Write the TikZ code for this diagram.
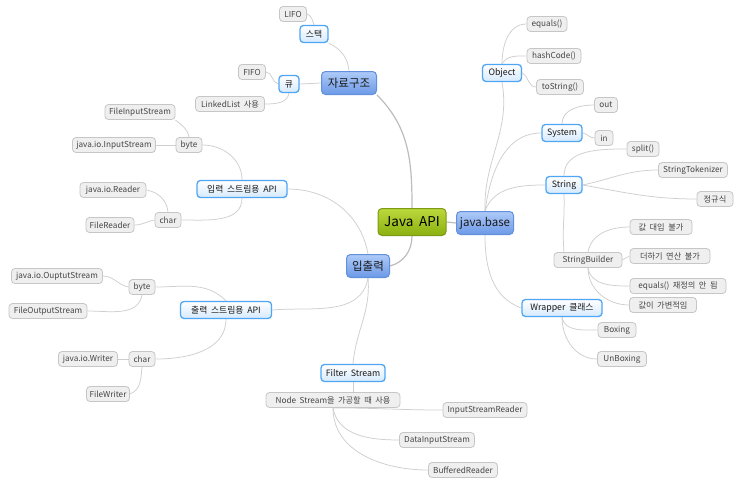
\documentclass[tikz,border=0pt]{standalone}
\usepackage{fontspec}
\setmainfont{Noto Sans CJK KR}[WordSpace=1.9]
\usetikzlibrary{calc}
\pgfdeclarelayer{background}
\pgfsetlayers{background,main}
\definecolor{leaffill}{HTML}{EFEFEF}
\definecolor{leafdraw}{HTML}{C6C6C6}
\definecolor{leaftext}{HTML}{454545}
\definecolor{subdraw}{HTML}{4FA6F5}
\definecolor{subtop}{HTML}{FFFFFF}
\definecolor{subbot}{HTML}{D6EAFD}
\definecolor{maintop}{HTML}{AECAF8}
\definecolor{mainbot}{HTML}{6C99E6}
\definecolor{maindraw}{HTML}{6290DC}
\definecolor{roottop}{HTML}{BCD83C}
\definecolor{rootbot}{HTML}{8AB010}
\definecolor{rootdraw}{HTML}{7D9A14}
\definecolor{edgecol}{HTML}{CFCFCF}
\definecolor{mainedgecol}{HTML}{BDBDBD}
\tikzset{
  leaf/.style={draw=leafdraw, fill=leaffill, line width=0.8pt, rounded corners=3.5pt,
    font=\fontsize{8.2}{9}\selectfont, text=leaftext, minimum height=15, inner xsep=2pt, inner ysep=1pt},
  subn/.style={draw=subdraw, top color=subtop, bottom color=subbot, line width=1.3pt, rounded corners=3.5pt,
    font=\fontsize{8.8}{10}\selectfont, text=black!90, minimum height=17, inner xsep=2pt, inner ysep=1pt},
  mainn/.style={draw=maindraw, top color=maintop, bottom color=mainbot, line width=1pt, rounded corners=4pt,
    font=\fontsize{11.5}{12}\selectfont, text=black!90, minimum height=23, inner xsep=2pt, inner ysep=1pt},
  rootn/.style={draw=rootdraw, top color=roottop, bottom color=rootbot, line width=1pt, rounded corners=4pt,
    font=\fontsize{13.5}{14}\selectfont, text=black, minimum height=27, inner xsep=2pt, inner ysep=1pt},
  edge/.style={draw=edgecol, line width=0.75pt},
  mainedge/.style={draw=mainedgecol, line width=1.2pt}
}
\begin{document}
\begin{tikzpicture}[x=1pt,y=-1pt]
\useasboundingbox (0,0) rectangle (743,482);
% centre and main nodes
\node[rootn, minimum width=68] (api) at (412,222) {Java API};
\node[mainn, minimum width=57] (jb) at (485,223) {java.base};
\node[mainn, minimum width=55] (ds) at (349,83) {자료구조};
\node[mainn, minimum width=43] (io) at (368,266) {입출력};
% 자료구조
\node[subn, minimum width=28] (stack) at (314,34) {스택};
\node[leaf, minimum width=27] (lifo) at (293,14) {LIFO};
\node[subn, minimum width=20] (queue) at (289,84) {큐};
\node[leaf, minimum width=27] (fifo) at (252,72) {FIFO};
\node[leaf, minimum width=69] (ll) at (230,104) {LinkedList 사용};
% 입력
\node[subn, minimum width=90] (inapi) at (242,189) {입력 스트림용 API};
\node[leaf, minimum width=26] (byteA) at (189,145) {byte};
\node[leaf, minimum width=70] (fis) at (140,112) {FileInputStream};
\node[leaf, minimum width=83] (jis) at (114,145) {java.io.InputStream};
\node[leaf, minimum width=26] (charA) at (168,220) {char};
\node[leaf, minimum width=66] (jrd) at (113,190) {java.io.Reader};
\node[leaf, minimum width=48] (frd) at (110,225) {FileReader};
% 출력
\node[subn, minimum width=91] (outapi) at (226,310) {출력 스트림용 API};
\node[leaf, minimum width=26] (byteB) at (142,287) {byte};
\node[leaf, minimum width=91] (jos) at (57,276) {java.io.OuptutStream};
\node[leaf, minimum width=78] (fos) at (48,311) {FileOutputStream};
\node[leaf, minimum width=26] (charB) at (142,359) {char};
\node[leaf, minimum width=59] (jwr) at (88,359) {java.io.Writer};
\node[leaf, minimum width=43] (fwr) at (108,394) {FileWriter};
% Filter Stream
\node[subn, minimum width=64] (fs) at (353,373) {Filter Stream};
\node[leaf, minimum width=134] (ns) at (333,400) {Node Stream을 가공할 때 사용};
\node[leaf, minimum width=84] (isr) at (485,410) {InputStreamReader};
\node[leaf, minimum width=75] (dis) at (437,440) {DataInputStream};
\node[leaf, minimum width=69] (br) at (463,470) {BufferedReader};
% java.base
\node[subn, minimum width=39] (obj) at (502,73) {Object};
\node[leaf, minimum width=40] (eq) at (547,24) {equals()};
\node[leaf, minimum width=54] (hc) at (554,56) {hashCode()};
\node[leaf, minimum width=47] (ts) at (560,87) {toString()};
\node[subn, minimum width=40] (sys) at (562,133) {System};
\node[leaf, minimum width=23] (out) at (606,105) {out};
\node[leaf, minimum width=18] (in) at (604,138) {in};
\node[subn, minimum width=36] (str) at (564,185) {String};
\node[leaf, minimum width=32] (split) at (643,149) {split()};
\node[leaf, minimum width=69] (stok) at (693,170) {StringTokenizer};
\node[leaf, minimum width=36] (regex) at (715,199) {정규식};
\node[leaf, minimum width=68] (sb) at (588,260) {StringBuilder};
\node[leaf, minimum width=62] (sbA) at (661,227) {값 대입 불가};
\node[leaf, minimum width=80] (sbB) at (670,256) {더하기 연산 불가};
\node[leaf, minimum width=96] (sbC) at (678,286) {equals() 재정의 안 됨};
\node[leaf, minimum width=67] (sbD) at (663,305) {값이 가변적임};
\node[subn, minimum width=80] (wr) at (562,308) {Wrapper 클래스};
\node[leaf, minimum width=38] (boxg) at (617,330) {Boxing};
\node[leaf, minimum width=49] (unboxg) at (622,359) {UnBoxing};

\begin{pgfonlayer}{background}
\fill[white] (0,0) rectangle (743,482);
% main connectors
\draw[mainedge] (api.east) -- (jb.west);
\draw[mainedge] (api.north) to[out=90,in=-45] (ds.south east);
\draw[mainedge] (api.south) to[out=-90,in=15] (io.east);
% 자료구조
\draw[edge] (ds.north) to[out=95,in=-25] (stack.south east);
\draw[edge] (stack.north) to[out=110,in=-20] (lifo.east);
\draw[edge] (ds.west) -- (queue.east);
\draw[edge] (queue.west) to[out=170,in=0] (fifo.east);
\draw[edge] (queue.south) to[out=-100,in=0] (ll.east);
% 입출력
\draw[edge] (io.north) to[out=100,in=0] (inapi.east);
\draw[edge] (io.south) to[out=-100,in=5] (outapi.east);
\draw[edge] (io.south) to[out=-85,in=85] (fs.north);
\draw[edge] (fs.south) -- (fs.south |- ns.north);
\draw[edge] (inapi.north) to[out=90,in=0] (byteA.east);
\draw[edge] (byteA.north) to[out=100,in=-40] (fis.south east);
\draw[edge] (byteA.west) -- (jis.east);
\draw[edge] (inapi.south) to[out=-90,in=0] (charA.east);
\draw[edge] (charA.north) to[out=95,in=-10] (jrd.east);
\draw[edge] (charA.west) to[out=190,in=0] (frd.east);
\draw[edge] (outapi.north) to[out=135,in=0] (byteB.east);
\draw[edge] (byteB.west) to[out=170,in=0] (jos.east);
\draw[edge] (byteB.south) to[out=-100,in=0] (fos.east);
\draw[edge] (outapi.south) to[out=-90,in=0] (charB.east);
\draw[edge] (charB.west) -- (jwr.east);
\draw[edge] (charB.south) to[out=-95,in=20] (fwr.east);
\draw[edge] (ns.south) to[out=0,in=180] (isr.west);
\draw[edge] (ns.south) to[out=-80,in=180] (dis.west);
\draw[edge] (ns.south) to[out=-90,in=180] (br.west);
% java.base
\draw[edge] (jb.north) to[out=92,in=-80] (obj.south);
\draw[edge] (jb.north) to[out=82,in=180] (sys.west);
\draw[edge] (jb.north) to[out=70,in=180] (str.west);
\draw[edge] (jb.south) to[out=-90,in=160] (wr.west);
\draw[edge] (obj.north) to[out=90,in=180] (eq.west);
\draw[edge] (obj.north) to[out=60,in=180] (hc.west);
\draw[edge] (obj.east) to[out=-30,in=180] (ts.west);
\draw[edge] (sys.north) to[out=90,in=180] (out.west);
\draw[edge] (sys.east) to[out=-10,in=180] (in.west);
\draw[edge] (str.north) to[out=90,in=180] (split.west);
\draw[edge] (str.east) to[out=12,in=180] (stok.west);
\draw[edge] (str.east) to[out=-10,in=180] (regex.west);
\draw[edge] (str.south) to[out=-88,in=95] (str.south |- sb.north);
\draw[edge] (sb.north) to[out=80,in=180] (sbA.west);
\draw[edge] (sb.east) to[out=10,in=180] (sbB.west);
\draw[edge] (sb.south) to[out=-80,in=180] (sbC.west);
\draw[edge] (sb.south) to[out=-90,in=180] (sbD.west);
\draw[edge] (wr.south) to[out=-80,in=180] (boxg.west);
\draw[edge] (wr.south) to[out=-90,in=180] (unboxg.west);
\end{pgfonlayer}
\end{tikzpicture}
\end{document}
